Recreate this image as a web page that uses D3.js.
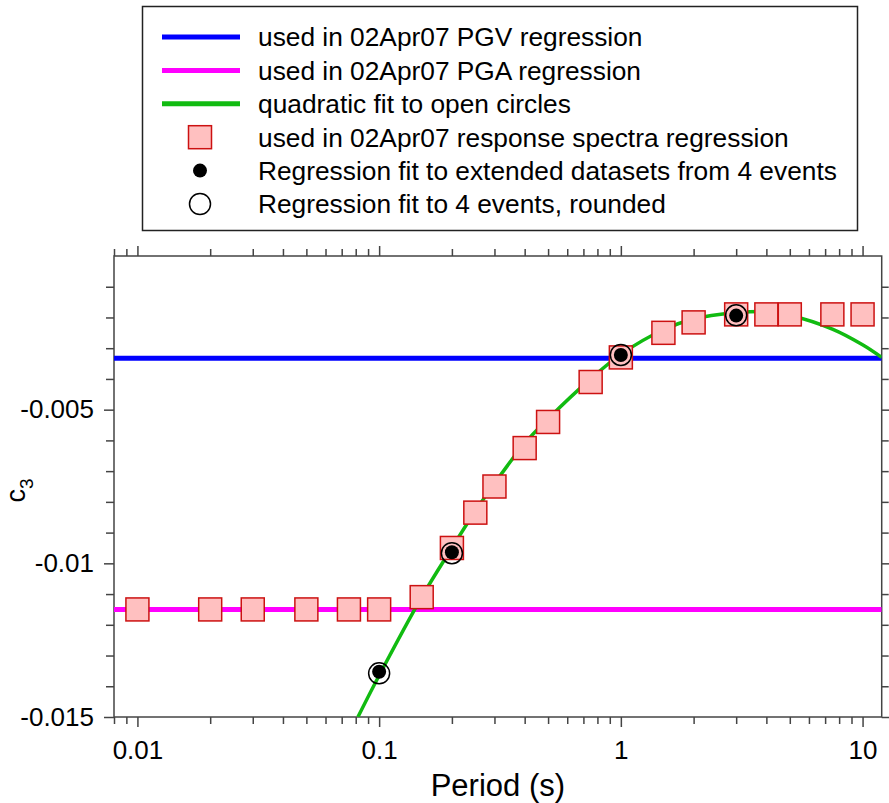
<!DOCTYPE html>
<html>
<head>
<meta charset="utf-8">
<script src="https://cdn.jsdelivr.net/npm/d3@7"></script>
<style>
    body { margin: 0; background: #fff; }
    svg text { font-family: "Liberation Sans", Arial, Helvetica, sans-serif; fill: #000; }
    .axis path, .axis line { stroke: #444; stroke-width: 1.5; }
    .axis text { font-size: 26px; }
</style>
</head>
<body>
<div id="chart"></div>
<script>

// response spectra regression coefficients (squares)
const specPeriods = [0.01, 0.02, 0.03, 0.05, 0.075, 0.1, 0.15, 0.2, 0.25, 0.3, 0.4, 0.5,
    0.75, 1, 1.5, 2, 3, 4, 5, 7.5, 10];
const specC3 = [-0.0115, -0.0115, -0.0115, -0.0115, -0.0115, -0.0115, -0.0111, -0.0095,
    -0.00835, -0.0075, -0.00625, -0.0054, -0.0041, -0.0033, -0.0025, -0.00216, -0.0019,
    -0.0019, -0.0019, -0.0019, -0.0019];

// fits from 4 events
const eventPeriods = [0.1, 0.2, 1, 3];
const extendedC3 = [-0.01353, -0.00964, -0.00322, -0.00194];
const roundedC3 = [-0.01358, -0.00967, -0.00322, -0.00193];

// quadratic fit to the rounded values
const fitPeriods = [0.0817, 0.1, 0.15, 0.2, 0.25, 0.3, 0.4, 0.5, 0.75, 1, 1.5, 2, 3, 4, 5, 7.5, 10, 12];
const fitC3 = [-0.0150, -0.01365, -0.0111, -0.0095, -0.0083, -0.0074, -0.0061, -0.0053, -0.0040,
    -0.0032, -0.0024, -0.00205, -0.00185, -0.00181, -0.00193, -0.00238, -0.00289, -0.0033];

// constant values used for PGV and PGA
const pgvC3 = -0.00333;
const pgaC3 = -0.0115;

const xMajor = [0.01, 0.1, 1, 10];
const xLabels = ["0.01", "0.1", "1", "10"];
const yMajor = [-0.015, -0.01, -0.005];
const yLabels = ["-0.015", "-0.01", "-0.005"];

const legendItems = [
    {text: "used in 02Apr07 PGV regression", type: "line", color: "#0000ff"},
    {text: "used in 02Apr07 PGA regression", type: "line", color: "#ff00ff"},
    {text: "quadratic fit to open circles", type: "line", color: "#11bb11"},
    {text: "used in 02Apr07 response spectra regression", type: "square"},
    {text: "Regression fit to extended datasets from 4 events", type: "dot"},
    {text: "Regression fit to 4 events, rounded", type: "ring"}
];

const width = 889, height = 803;
const margin = {top: 256, right: 7.3, bottom: 86, left: 114};

let svg = d3.select("#chart").append("svg")
    .attr("width", width)
    .attr("height", height);

let x = d3.scaleLog()
    .domain([0.008, 12])
    .range([margin.left, width - margin.right]);
let y = d3.scaleLinear()
    .domain([-0.015, 0])
    .range([height - margin.bottom, margin.top]);

// minor ticks: 2..9 in each decade, every 0.001 on y
let xMinor = [];
[0.001, 0.01, 0.1, 1].forEach(dec => {
    for (let k = 2; k <= 9; ++k) {
        let v = +(k * dec).toPrecision(3);
        if (v >= 0.008 && v <= 12) xMinor.push(v);
    }
});
let yMinor = d3.range(-15, 0).map(d => d / 1000).filter(d => yMajor.indexOf(d) < 0);

let fmtX = d => { let i = xMajor.indexOf(d); return i < 0 ? "" : xLabels[i]; };
let fmtY = d => { let i = yMajor.indexOf(d); return i < 0 ? "" : yLabels[i]; };

let y0 = y.range()[0], y1 = y.range()[1];
let x0 = x.range()[0], x1 = x.range()[1];

function drawAxis(axisFn, scale, pos, values, size, fmt, transform) {
    let g = svg.append("g").attr("class", "axis").attr("transform", transform);
    g.call(axisFn(scale).tickValues(values).tickSize(size).tickSizeOuter(0)
        .tickFormat(fmt).tickPadding(pos));
    return g;
}

// bottom
drawAxis(d3.axisBottom, x, 0, xMinor, 7, () => "", `translate(0,${y0})`);
drawAxis(d3.axisBottom, x, 14, xMajor, 10, fmtX, `translate(0,${y0})`);
// top
drawAxis(d3.axisTop, x, 0, xMinor, 7, () => "", `translate(0,${y1})`);
drawAxis(d3.axisTop, x, 0, xMajor, 10, () => "", `translate(0,${y1})`);
// left
drawAxis(d3.axisLeft, y, 0, yMinor, 8, () => "", `translate(${x0},0)`);
drawAxis(d3.axisLeft, y, 10, yMajor, 10, fmtY, `translate(${x0},0)`);
// right
drawAxis(d3.axisRight, y, 0, yMinor, 7, () => "", `translate(${x1},0)`);
drawAxis(d3.axisRight, y, 0, yMajor, 10, () => "", `translate(${x1},0)`);

// full frame lines
svg.selectAll(".axis path.domain").remove();
svg.append("rect")
    .attr("x", x0).attr("y", y1)
    .attr("width", x1 - x0).attr("height", y0 - y1)
    .attr("fill", "none")
    .attr("stroke", "#444")
    .attr("stroke-width", 1.5);

svg.append("clipPath").attr("id", "plot-clip")
    .append("rect")
    .attr("x", x0).attr("y", y1)
    .attr("width", x1 - x0).attr("height", y0 - y1);

let plot = svg.append("g").attr("clip-path", "url(#plot-clip)");

plot.append("line")
    .attr("x1", x0).attr("x2", x1)
    .attr("y1", y(pgvC3)).attr("y2", y(pgvC3))
    .attr("stroke", "#0000ff").attr("stroke-width", 5);

plot.append("line")
    .attr("x1", x0).attr("x2", x1)
    .attr("y1", y(pgaC3)).attr("y2", y(pgaC3))
    .attr("stroke", "#ff00ff").attr("stroke-width", 5);

let fitLine = d3.line()
    .x(d => x(d[0]))
    .y(d => y(d[1]))
    .curve(d3.curveCatmullRom);

plot.append("path")
    .datum(fitPeriods.map((p, i) => [p, fitC3[i]]))
    .attr("d", fitLine)
    .attr("fill", "none")
    .attr("stroke", "#11bb11")
    .attr("stroke-width", 3.5);

const sq = 23;
plot.selectAll("rect.spec").data(specPeriods)
    .enter().append("rect")
    .attr("class", "spec")
    .attr("x", d => x(d) - sq / 2)
    .attr("y", (d, i) => y(specC3[i]) - sq / 2)
    .attr("width", sq).attr("height", sq)
    .attr("fill", "#ffc0c0")
    .attr("stroke", "#cc1111")
    .attr("stroke-width", 1.5);

plot.selectAll("circle.ring").data(eventPeriods)
    .enter().append("circle")
    .attr("class", "ring")
    .attr("cx", d => x(d))
    .attr("cy", (d, i) => y(roundedC3[i]))
    .attr("r", 10.5)
    .attr("fill", "none")
    .attr("stroke", "#000")
    .attr("stroke-width", 1.5);

plot.selectAll("circle.dot").data(eventPeriods)
    .enter().append("circle")
    .attr("class", "dot")
    .attr("cx", d => x(d))
    .attr("cy", (d, i) => y(extendedC3[i]))
    .attr("r", 7)
    .attr("fill", "#000");

// axis titles
svg.append("text")
    .attr("x", (x0 + x1) / 2)
    .attr("y", 796)
    .attr("text-anchor", "middle")
    .style("font-size", "31px")
    .text("Period (s)");

let yTitle = svg.append("text")
    .attr("transform", `translate(25,${(y0 + y1) / 2 + 4}) rotate(-90)`)
    .attr("text-anchor", "middle")
    .style("font-size", "27px");
yTitle.append("tspan").text("c");
yTitle.append("tspan").attr("dy", 8).style("font-size", "19px").text("3");

// legend
let legend = svg.append("g");
legend.append("rect")
    .attr("x", 142.5).attr("y", 6.5)
    .attr("width", 715).attr("height", 224)
    .attr("fill", "#fff")
    .attr("stroke", "#222")
    .attr("stroke-width", 1.5);

let rows = legend.selectAll("g.row").data(legendItems)
    .enter().append("g")
    .attr("class", "row")
    .attr("transform", (d, i) => `translate(0,${37 + i * 33.4})`);

rows.filter(d => d.type === "line").append("line")
    .attr("x1", 162).attr("x2", 240)
    .attr("stroke", d => d.color)
    .attr("stroke-width", 5);
rows.filter(d => d.type === "square").append("rect")
    .attr("x", 200 - sq / 2).attr("y", -sq / 2)
    .attr("width", sq).attr("height", sq)
    .attr("fill", "#ffc0c0").attr("stroke", "#cc1111").attr("stroke-width", 1.5);
rows.filter(d => d.type === "dot").append("circle")
    .attr("cx", 200).attr("r", 7).attr("fill", "#000");
rows.filter(d => d.type === "ring").append("circle")
    .attr("cx", 200).attr("r", 10.5)
    .attr("fill", "none").attr("stroke", "#000").attr("stroke-width", 1.5);

rows.append("text")
    .attr("x", 258)
    .attr("dy", "0.36em")
    .style("font-size", "26.3px")
    .text(d => d.text);

</script>
</body>
</html>
